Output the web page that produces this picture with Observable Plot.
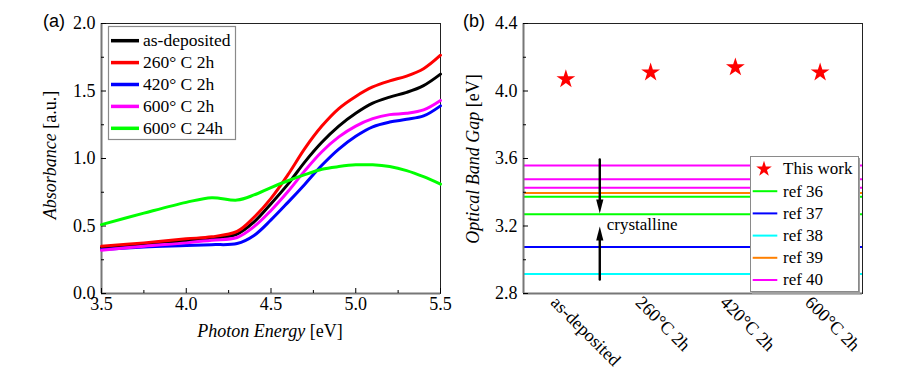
<!DOCTYPE html>
<html>
<head>
<meta charset="utf-8">
<script src="https://cdn.jsdelivr.net/npm/d3@7"></script>
<script src="https://cdn.jsdelivr.net/npm/@observablehq/plot@0.6"></script>
<style>
  body { margin: 0; background: #fff; }
  #wrap { position: relative; width: 903px; height: 376px; overflow: hidden; background: #fff; }
  .panel { position: absolute; top: 0; }
  .panel svg { overflow: visible; }
  #overlay { position: absolute; left: 0; top: 0; pointer-events: none; }
</style>
</head>
<body>
<div id="wrap">
  <div id="pa" class="panel" style="left:0px"></div>
  <div id="pb" class="panel" style="left:450px"></div>
</div>
<script>
// ---------------- Panel (a) data ----------------
const energy      = [3.5, 3.75, 4.0, 4.15, 4.3, 4.4, 4.5, 4.6, 4.7, 4.8, 4.9, 5.0, 5.1, 5.2, 5.3, 5.4, 5.5];
const asDeposited = [0.34, 0.365, 0.39, 0.407, 0.44, 0.53, 0.665, 0.81, 0.975, 1.12, 1.24, 1.335, 1.41, 1.455, 1.49, 1.54, 1.625];
const c260_2h     = [0.35, 0.375, 0.405, 0.42, 0.46, 0.565, 0.705, 0.88, 1.075, 1.24, 1.37, 1.46, 1.53, 1.575, 1.61, 1.665, 1.765];
const c420_2h     = [0.325, 0.345, 0.355, 0.362, 0.37, 0.43, 0.545, 0.675, 0.81, 0.95, 1.07, 1.165, 1.235, 1.27, 1.29, 1.315, 1.39];
const c600_2h     = [0.32, 0.35, 0.375, 0.395, 0.415, 0.495, 0.615, 0.755, 0.91, 1.05, 1.16, 1.24, 1.295, 1.325, 1.335, 1.36, 1.43];
const c600_24h    = [0.51, 0.595, 0.675, 0.71, 0.692, 0.73, 0.785, 0.835, 0.88, 0.92, 0.94, 0.953, 0.953, 0.94, 0.91, 0.865, 0.81];
const seriesNames = ["as-deposited", "260° C 2h", "420° C 2h", "600° C 2h", "600° C 24h"];
const seriesValues = [asDeposited, c260_2h, c420_2h, c600_2h, c600_24h];
const seriesColors = ["#000000", "#ff0000", "#0000ff", "#ff00ff", "#00ff00"];
const xTicksA = [3.5, 4.0, 4.5, 5.0, 5.5];
const xMinorA = [3.75, 4.25, 4.75, 5.25];
const yTicksA = [0.0, 0.5, 1.0, 1.5, 2.0];
const yMinorA = [0.25, 0.75, 1.25, 1.75];

// ---------------- Panel (b) data ----------------
const categories = ["as-deposited", "260°C 2h", "420°C 2h", "600°C 2h"];
const bandGap    = [4.07, 4.11, 4.14, 4.11];
const refNames   = ["ref 36", "ref 37", "ref 38", "ref 39", "ref 40"];
const refGaps    = [[3.373, 3.27], [3.075], [2.915], [3.396], [3.558, 3.477, 3.426]];
const refColors  = ["#00ff00", "#0000ff", "#00ffff", "#ff8000", "#ff00ff"];
const yTicksB = [2.8, 3.2, 3.6, 4.0, 4.4];
const yMinorB = [3.0, 3.4, 3.8, 4.2];
// "crystalline" annotation arrows (data units: x = category index, y = eV)
const arrowX = 0.4;
const arrowDown = {from: 3.594, to: 3.274};
const arrowUp   = {from: 2.883, to: 3.197};
const annotationY = 3.21;

// ---------------- build tables ----------------
const curves = seriesNames.flatMap((name, s) =>
  energy.map((e, i) => ({series: name, energy: e, absorbance: seriesValues[s][i]})));
const points = categories.map((c, i) => ({i, c, gap: bandGap[i]}));
const refLines = refNames.flatMap((r, k) => refGaps[k].map(v => ({ref: r, value: v})));
const arrows = [
  {x: arrowX, y1: arrowDown.from, y2: arrowDown.to, rot: 180},
  {x: arrowX, y1: arrowUp.from, y2: arrowUp.to, rot: 0}
];

const fmt1 = d3.format(".1f");
const serif = "'Liberation Serif', 'Times New Roman', serif";

// narrow filled arrow head, tip at origin pointing up
const headSymbol = {
  draw(ctx) { const w = 3.6, l = 14; ctx.moveTo(0, 0); ctx.lineTo(w, l); ctx.lineTo(-w, l); ctx.closePath(); }
};

// ---------------- Panel (a) ----------------
const WA = 450, HA = 376, mlA = 101, mrA = 10, mtA = 23, mbA = 83;
const pwA = WA - mlA - mrA, phA = HA - mtA - mbA;
const plotA = Plot.plot({
  width: WA, height: HA,
  marginLeft: mlA, marginRight: mrA, marginTop: mtA, marginBottom: mbA,
  style: {fontFamily: serif, fontSize: "18px", color: "#000", background: "transparent", overflow: "visible"},
  x: {domain: [3.5, 5.5]},
  y: {domain: [0, 2]},
  color: {domain: seriesNames, range: seriesColors},
  marks: [
    Plot.frame({stroke: "#222"}),
    Plot.ruleX([3.5], {stroke: "#777", strokeWidth: 2}),
    Plot.ruleY([0], {stroke: "#777", strokeWidth: 2}),
    Plot.tickX(xTicksA, {x: d => d, insetTop: phA - 5, stroke: "#000"}),
    Plot.tickX(xMinorA, {x: d => d, insetTop: phA - 3, stroke: "#000"}),
    Plot.tickY(yTicksA, {y: d => d, insetRight: pwA - 5, stroke: "#000"}),
    Plot.tickY(yMinorA, {y: d => d, insetRight: pwA - 3, stroke: "#000"}),
    Plot.axisX({ticks: xTicksA, tickFormat: fmt1, tickSize: 0, tickPadding: 4, label: null}),
    Plot.axisY({ticks: yTicksA, tickFormat: fmt1, tickSize: 0, tickPadding: 6, label: null}),
    Plot.line(curves, {x: "energy", y: "absorbance", z: "series", stroke: "series",
      strokeWidth: 3, curve: "catmull-rom"})
  ]
});
document.getElementById("pa").appendChild(plotA);

// ---------------- Panel (b) ----------------
const WB = 453, HB = 376, mlB = 73, mrB = 41, mtB = 23, mbB = 83;
const pwB = WB - mlB - mrB;
const plotB = Plot.plot({
  width: WB, height: HB,
  marginLeft: mlB, marginRight: mrB, marginTop: mtB, marginBottom: mbB,
  style: {fontFamily: serif, fontSize: "18px", color: "#000", background: "transparent", overflow: "visible"},
  x: {type: "linear", domain: [-0.5, 3.5]},
  y: {domain: [2.8, 4.4]},
  color: {domain: refNames, range: refColors},
  marks: [
    Plot.ruleY(refLines, {y: "value", stroke: "ref", strokeWidth: 2}),
    Plot.frame({stroke: "#222"}),
    Plot.ruleX([-0.5], {stroke: "#777", strokeWidth: 2}),
    Plot.ruleY([2.8], {stroke: "#777", strokeWidth: 2}),
    Plot.tickY(yTicksB, {y: d => d, insetRight: pwB - 5, stroke: "#000"}),
    Plot.tickY(yMinorB, {y: d => d, insetRight: pwB - 3, stroke: "#000"}),
    Plot.axisY({ticks: yTicksB, tickFormat: fmt1, tickSize: 0, tickPadding: 6, label: null}),
    Plot.axisX({ticks: [0, 1, 2, 3], tickFormat: i => categories[i], tickSize: 0, tickPadding: 6,
      tickRotate: 45, dx: -12, label: null}),
    Plot.dot(points, {x: "i", y: "gap", symbol: "star", r: 5.9, fill: "#ff0000", stroke: "none"}),
    Plot.arrow(arrows, {x1: "x", y1: "y1", x2: "x", y2: "y2", stroke: "#000", strokeWidth: 2.4,
      headLength: 0, insetEnd: 10}),
    Plot.dot(arrows, {x: "x", y: "y2", symbol: headSymbol, rotate: "rot", fill: "#000", stroke: "none", r: 5}),
    Plot.text(["crystalline"], {x: arrowX, y: annotationY, dx: 7, textAnchor: "start",
      fontSize: 17, fontFamily: serif, fill: "#000"})
  ]
});
document.getElementById("pb").appendChild(plotB);

// ---------------- overlay: panel labels, axis titles, legends ----------------
const ov = d3.select("#wrap").append("svg").attr("id", "overlay")
  .attr("width", 903).attr("height", 376);

ov.append("text").attr("x", 43).attr("y", 27).attr("font-family", "'Liberation Sans', Arial, sans-serif")
  .attr("font-size", 18).text("(a)");
ov.append("text").attr("x", 463).attr("y", 27).attr("font-family", "'Liberation Sans', Arial, sans-serif")
  .attr("font-size", 18).text("(b)");

function title(x, y, rotate, italicPart, rest) {
  const t = ov.append("text").attr("font-family", serif).attr("font-size", 18)
    .attr("text-anchor", "middle")
    .attr("transform", `translate(${x},${y})` + (rotate ? ` rotate(${rotate})` : ""));
  t.append("tspan").attr("font-style", "italic").text(italicPart);
  t.append("tspan").text(rest);
}
title(270, 337, 0, "Photon Energy", " [eV]");
title(56, 155, -90, "Absorbance", " [a.u.]");
title(479, 159, -90, "Optical Band Gap", " [eV]");

// legend (a)
{
  const g = ov.append("g").attr("transform", "translate(108,26)");
  g.append("rect").attr("x", 0.5).attr("y", 0.5).attr("width", 127).attr("height", 113)
    .attr("fill", "#fff").attr("stroke", "#8a8a8a").attr("stroke-width", 1.2);
  seriesNames.forEach((name, k) => {
    const cy = 14.7 + k * 21.9;
    g.append("line").attr("x1", 3).attr("x2", 31).attr("y1", cy).attr("y2", cy)
      .attr("stroke", seriesColors[k]).attr("stroke-width", 3.5);
    g.append("text").attr("x", 35).attr("y", cy).attr("dy", "0.32em")
      .attr("font-family", serif).attr("font-size", 17.5).text(name);
  });
}
// legend (b)
{
  const g = ov.append("g").attr("transform", "translate(750,156)");
  g.append("rect").attr("x", 2).attr("y", 2).attr("width", 108).attr("height", 136).attr("fill", "#a0a0a0");
  g.append("rect").attr("x", 0.5).attr("y", 0.5).attr("width", 108).attr("height", 135)
    .attr("fill", "#fff").attr("stroke", "#8a8a8a").attr("stroke-width", 1);
  const rows = ["This work", ...refNames];
  rows.forEach((name, k) => {
    const cy = 13 + k * 22.2;
    if (k === 0) {
      g.append("path").attr("d", d3.symbol(d3.symbolStar, Math.PI * 4.9 * 4.9)())
        .attr("transform", `translate(14,${cy})`).attr("fill", "#ff0000");
    } else {
      g.append("line").attr("x1", 2.7).attr("x2", 27.3).attr("y1", cy).attr("y2", cy)
        .attr("stroke", refColors[k - 1]).attr("stroke-width", 2);
    }
    g.append("text").attr("x", 33).attr("y", cy).attr("dy", "0.32em")
      .attr("font-family", serif).attr("font-size", 17).text(name);
  });
}
</script>
</body>
</html>
